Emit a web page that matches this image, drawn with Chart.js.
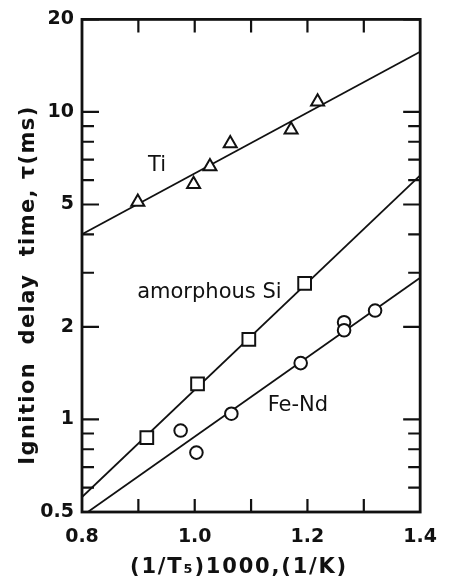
<!DOCTYPE html>
<html>
<head>
<meta charset="utf-8">
<script src="https://cdn.jsdelivr.net/npm/chart.js@4/dist/chart.umd.min.js"></script>
<style>
html,body{margin:0;padding:0;background:#fff;}
canvas{display:block;}
</style>
</head>
<body>
<canvas id="c" width="451" height="585"></canvas>
<script>
// ---- data ----
const xTickLabels = [0.8, 1.0, 1.2, 1.4];
const xMinorTicks = [0.9, 1.0, 1.1, 1.2, 1.3];
const yTickLabels = [0.5, 1, 2, 5, 10, 20];
const yMinorTicks = [0.6, 0.7, 0.8, 0.9, 3, 4, 6, 7, 8, 9];

const tiX = [0.899, 0.998, 1.027, 1.063, 1.171, 1.218];
const tiY = [5.1, 5.82, 6.65, 7.9, 8.76, 10.8];
const tiFitX = [0.8, 1.4];
const tiFitY = [4.0, 15.7];

const siX = [0.915, 1.005, 1.096, 1.195];
const siY = [0.873, 1.305, 1.82, 2.77];
const siFitX = [0.8, 1.4];
const siFitY = [0.559, 6.22];

const feX = [0.975, 1.003, 1.065, 1.188, 1.265, 1.265, 1.320];
const feY = [0.92, 0.78, 1.044, 1.525, 2.07, 1.95, 2.26];
const feFitX = [0.8, 1.4];
const feFitY = [0.485, 2.89];

const seriesLabels = [
  {text: 'Ti', x: 0.933, y: 6.7},
  {text: 'amorphous Si', x: 1.026, y: 2.59},
  {text: 'Fe-Nd', x: 1.183, y: 1.108}
];
const xTitle = '(1/T\u2085)1000,(1/K)';
const yTitle = 'Ignition  delay  time, \u03c4(ms)';

const pts = (xs, ys) => xs.map((x, i) => ({x: x, y: ys[i]}));
const FONT = '"DejaVu Sans", sans-serif';

const markerDs = (xs, ys, style, r) => ({
  type: 'scatter', data: pts(xs, ys), pointStyle: style, pointRadius: r, pointHoverRadius: r,
  pointBackgroundColor: '#fff', pointBorderColor: '#111', pointBorderWidth: 2, showLine: false
});
const lineDs = (xs, ys) => ({
  type: 'scatter', data: pts(xs, ys), showLine: true, borderColor: '#111', borderWidth: 1.8,
  pointRadius: 0, fill: false
});

const framePlugin = {
  id: 'frame',
  afterDraw(chart) {
    const ctx = chart.ctx, a = chart.chartArea;
    const xs = chart.scales.x, ys = chart.scales.y;
    ctx.save();
    ctx.strokeStyle = '#111';
    ctx.lineWidth = 2.2;
    ctx.beginPath();
    yTickLabels.forEach(v => {
      const p = ys.getPixelForValue(v);
      ctx.moveTo(a.left, p); ctx.lineTo(a.left + 17, p);
      ctx.moveTo(a.right, p); ctx.lineTo(a.right - 17, p);
    });
    yMinorTicks.forEach(v => {
      const p = ys.getPixelForValue(v);
      ctx.moveTo(a.left, p); ctx.lineTo(a.left + 12, p);
      ctx.moveTo(a.right, p); ctx.lineTo(a.right - 12, p);
    });
    xMinorTicks.forEach(v => {
      const p = xs.getPixelForValue(v);
      ctx.moveTo(p, a.top); ctx.lineTo(p, a.top + 13);
      ctx.moveTo(p, a.bottom); ctx.lineTo(p, a.bottom - 13);
    });
    ctx.stroke();
    ctx.lineWidth = 2.8;
    ctx.strokeRect(a.left, a.top, a.right - a.left, a.bottom - a.top);

    ctx.fillStyle = '#111';
    ctx.textAlign = 'center';
    ctx.textBaseline = 'middle';
    ctx.font = '21px ' + FONT;
    seriesLabels.forEach(l => {
      ctx.fillText(l.text, xs.getPixelForValue(l.x), ys.getPixelForValue(l.y));
    });
    ctx.font = 'bold 21px ' + FONT;
    ctx.letterSpacing = '1.8px';
    ctx.fillText(xTitle, 239, 568);
    ctx.letterSpacing = '1.4px';
    ctx.save();
    ctx.translate(29, 285);
    ctx.rotate(-Math.PI / 2);
    ctx.fillText(yTitle, 0, 0);
    ctx.restore();
    ctx.restore();
  }
};

new Chart(document.getElementById('c'), {
  type: 'scatter',
  data: {
    datasets: [
      markerDs(tiX, tiY, 'triangle', 7.5),
      markerDs(siX, siY, 'rect', 9),
      markerDs(feX, feY, 'circle', 6.3),
      lineDs(tiFitX, tiFitY),
      lineDs(siFitX, siFitY),
      lineDs(feFitX, feFitY)
    ]
  },
  options: {
    responsive: false,
    animation: false,
    devicePixelRatio: 1,
    layout: {padding: {top: 16, right: 18, left: 0, bottom: 0}},
    plugins: {legend: {display: false}, tooltip: {enabled: false}},
    scales: {
      x: {
        type: 'linear', min: 0.8, max: 1.4,
        grid: {display: false, drawTicks: false}, border: {display: false},
        afterBuildTicks: s => { s.ticks = xTickLabels.map(v => ({value: v})); },
        afterFit: s => { s.height = 73; },
        ticks: {
          color: '#111', padding: 14,
          font: {family: FONT, size: 19, weight: 'bold'},
          callback: v => v.toFixed(1)
        }
      },
      y: {
        type: 'logarithmic', min: 0.5, max: 20,
        grid: {display: false, drawTicks: false}, border: {display: false},
        afterBuildTicks: s => { s.ticks = yTickLabels.map(v => ({value: v})); },
        afterFit: s => { s.width = 82; },
        ticks: {
          color: '#111', padding: 8,
          font: {family: FONT, size: 19, weight: 'bold'},
          callback: v => String(v)
        }
      }
    }
  },
  plugins: [framePlugin]
});
</script>
</body>
</html>
